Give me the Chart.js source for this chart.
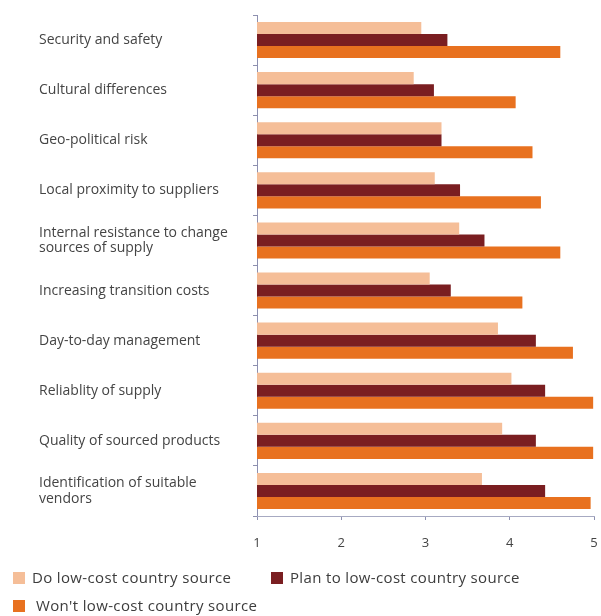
<!DOCTYPE html>
<html>
<head>
<meta charset="utf-8">
<script src="https://cdn.jsdelivr.net/npm/chart.js@4/dist/chart.umd.min.js"></script>
<style>
  html, body { margin: 0; padding: 0; background: #fff; }
  #wrap { position: relative; width: 601px; height: 616px; }
  canvas { position: absolute; left: 0; top: 0; }
  .leg { position: absolute; font-family: "Open Sans", sans-serif; font-size: 15px; letter-spacing: 0.35px; color: #3c3c3c; white-space: nowrap; line-height: 18px; }
  .sw { position: absolute; width: 12px; height: 12px; }
</style>
</head>
<body>
<div id="wrap">
  <canvas id="c" width="601" height="616"></canvas>
  <div class="sw" style="left:13px;top:572px;background:#F5BE98"></div>
  <div class="leg" style="left:32px;top:568px">Do low-cost country source</div>
  <div class="sw" style="left:271px;top:572px;background:#7A1E21"></div>
  <div class="leg" style="left:290px;top:568px">Plan to low-cost country source</div>
  <div class="sw" style="left:13px;top:600px;background:#E8711F"></div>
  <div class="leg" style="left:36px;top:596px">Won't low-cost country source</div>
</div>
<script>
const categories = [
  "Security and safety",
  "Cultural differences",
  "Geo-political risk",
  "Local proximity to suppliers",
  ["Internal resistance to change", "sources of supply"],
  "Increasing transition costs",
  "Day-to-day management",
  "Reliablity of supply",
  "Quality of sourced products",
  ["Identification of suitable", "vendors"]
];
const seriesNames = ["Do low-cost country source", "Plan to low-cost country source", "Won't low-cost country source"];
const doValues   = [2.95, 2.86, 3.19, 3.11, 3.40, 3.05, 3.86, 4.02, 3.91, 3.67];
const planValues = [3.26, 3.10, 3.19, 3.41, 3.70, 3.30, 4.31, 4.42, 4.31, 4.42];
const wontValues = [4.60, 4.07, 4.27, 4.37, 4.60, 4.15, 4.75, 4.99, 4.99, 4.96];
const xTicks = [1, 2, 3, 4, 5];

const colors = ["#F5BE98", "#7A1E21", "#E8711F"];
const axisColor = "#8d90b0";

new Chart(document.getElementById("c"), {
  type: "bar",
  data: {
    labels: categories,
    datasets: [
      { label: seriesNames[0], data: doValues, backgroundColor: colors[0] },
      { label: seriesNames[1], data: planValues, backgroundColor: colors[1] },
      { label: seriesNames[2], data: wontValues, backgroundColor: colors[2] }
    ]
  },
  options: {
    indexAxis: "y",
    responsive: false,
    animation: false,
    categoryPercentage: 0.72,
    barPercentage: 1.0,
    layout: { padding: { left: 39, right: 0, top: 15, bottom: 60 } },
    plugins: { legend: { display: false }, tooltip: { enabled: false } },
    scales: {
      y: {
        afterFit: (s) => { s.width = 218; s.paddingTop = 0; s.paddingBottom = 0; },
        grid: { drawOnChartArea: false, drawTicks: true, tickLength: 4, color: axisColor, offset: true },
        border: { display: true, color: axisColor, width: 1 },
        ticks: {
          crossAlign: "far",
          color: "#444",
          font: { family: "'Open Sans', sans-serif", size: 14, lineHeight: 1.12 }
        }
      },
      x: {
        min: 1, max: 5,
        afterFit: (s) => { s.height = 40; s.paddingRight = 7; },
        afterBuildTicks: (s) => { s.ticks = xTicks.map(v => ({ value: v })); },
        grid: { drawOnChartArea: false, drawTicks: true, tickLength: 4, color: axisColor },
        border: { display: true, color: "#a7aac2", width: 1, dash: [3, 2] },
        ticks: {
          padding: 15,
          color: "#444",
          font: { family: "'Open Sans', sans-serif", size: 13 }
        }
      }
    }
  }
});
</script>
</body>
</html>
